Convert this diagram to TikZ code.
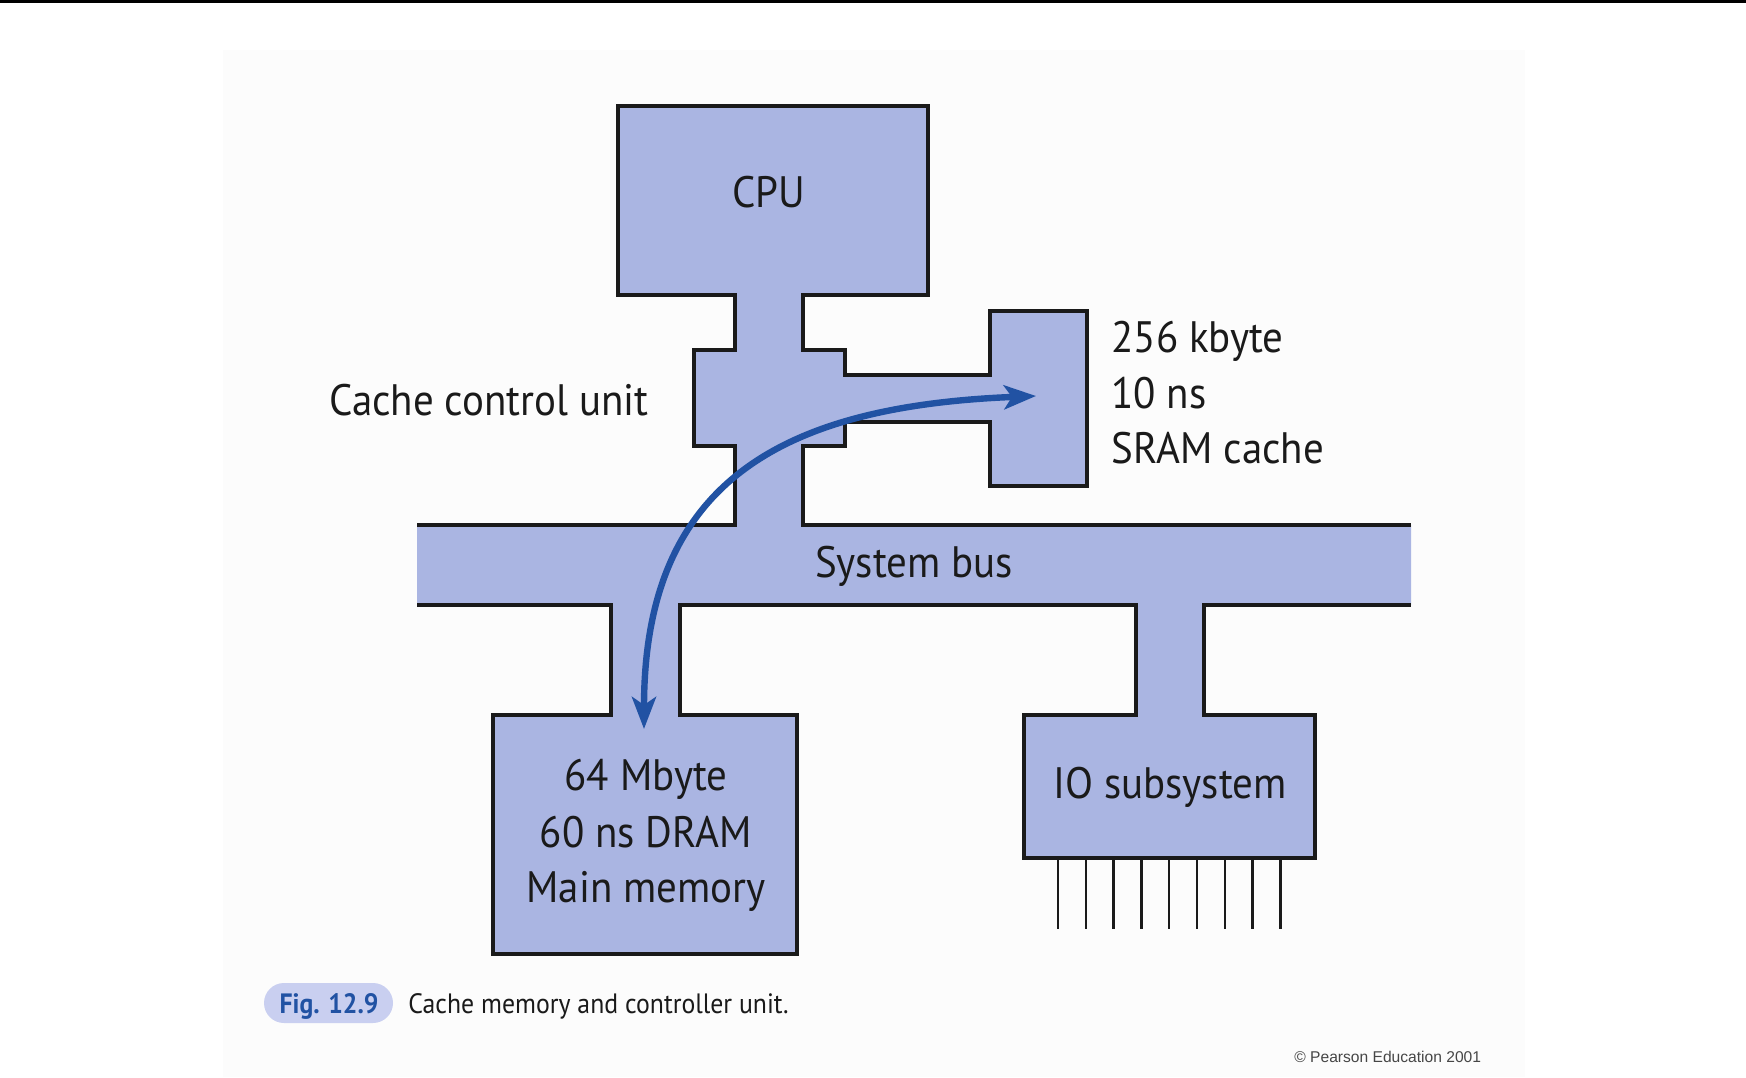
\documentclass[tikz,border=0pt]{standalone}
\usepackage{fontspec}
\setmainfont{PT Sans}[FakeStretch=0.93]
\newfontfamily\capfont{PT Sans}[FakeStretch=0.92]
\newfontfamily\copyfont{Liberation Sans}
\usetikzlibrary{arrows.meta}
\definecolor{boxfill}{RGB}{170,181,226}
\definecolor{arrowblue}{RGB}{33,82,163}
\definecolor{pillfill}{RGB}{201,207,240}
\definecolor{txt}{RGB}{26,26,26}
\definecolor{panel}{RGB}{252,252,252}
\definecolor{copygray}{RGB}{70,70,70}
\begin{document}
\begin{tikzpicture}[x=0.5pt,y=-0.5pt,
  outline/.style={line width=2.25pt, line join=miter, draw=txt},
  lbl/.style={inner sep=0pt, anchor=base, text=txt, font=\fontsize{22pt}{28pt}\selectfont},
  lblw/.style={lbl, anchor=base west},
  pin/.style={line width=1.2pt, draw=txt},
  flow/.style={draw=arrowblue, line width=3.2pt, >={Stealth[length=16pt,width=12pt,inset=4pt]}, <->}]
\useasboundingbox (0,0) rectangle (1746,1077);
\fill[white] (0,0) rectangle (1746,1077);
\fill[panel] (223,50) rectangle (1525,1077);
\fill[black] (0,0) rectangle (1746,3);
% filled body
\fill[boxfill] (417,525) -- (735,525) -- (735,446) -- (694,446) -- (694,350) -- (735,350)
  -- (735,295) -- (618,295) -- (618,106) -- (928,106) -- (928,295) -- (803,295)
  -- (803,350) -- (845,350) -- (845,375) -- (990,375) -- (990,311) -- (1087,311)
  -- (1087,486) -- (990,486) -- (990,422) -- (845,422) -- (845,446) -- (803,446)
  -- (803,525) -- (1411,525) -- (1411,605) -- (1204,605) -- (1204,715) -- (1315,715)
  -- (1315,858) -- (1024,858) -- (1024,715) -- (1136,715) -- (1136,605) -- (680,605)
  -- (680,715) -- (797,715) -- (797,954) -- (493,954) -- (493,715) -- (611,715)
  -- (611,605) -- (417,605) -- cycle;
% outlines
\draw[outline] (417,525) -- (735,525) -- (735,446) -- (694,446) -- (694,350) -- (735,350)
  -- (735,295) -- (618,295) -- (618,106) -- (928,106) -- (928,295) -- (803,295)
  -- (803,350) -- (845,350) -- (845,375) -- (990,375) -- (990,311) -- (1087,311)
  -- (1087,486) -- (990,486) -- (990,422) -- (845,422) -- (845,446) -- (803,446)
  -- (803,525) -- (1411,525);
\draw[outline] (417,605) -- (611,605) -- (611,715) -- (493,715) -- (493,954) -- (797,954)
  -- (797,715) -- (680,715) -- (680,605) -- (1136,605) -- (1136,715) -- (1024,715)
  -- (1024,858) -- (1315,858) -- (1315,715) -- (1204,715) -- (1204,605) -- (1411,605);
% IO pins
\foreach \k in {0,...,8} {
  \coordinate (pintop\k) at (1058+27.8*\k,858);
  \coordinate (pinbot\k) at (1058+27.8*\k,929);
  \draw[pin] (pintop\k) -- (pinbot\k);
}
% labels
\node[lbl] (cpu) at (769,207) {CPU};
\node[lbl] (ccu) at (489,415) {Cache control unit};
\node[lblw] (sram1) at (1111,352) {256 kbyte};
\node[lblw] (sram2) at (1111,408) {10 ns};
\node[lblw] (sram3) at (1111,463) {SRAM cache};
\node[lbl] (bus) at (914,577) {System bus};
\node[lbl] (mem1) at (646,790) {64 Mbyte};
\node[lbl] (mem2) at (646,847) {60 ns DRAM};
\node[lbl] (mem3) at (646,902) {Main memory};
\node[lbl] (io) at (1170,798) {IO subsystem};
% arrow
\coordinate (memtip) at (644,729);
\coordinate (sramtip) at (1036,396);
\draw[flow] (memtip) .. controls (644,479) and (786,406) .. (sramtip);
% caption
\fill[pillfill, rounded corners=10pt] (264,983) rectangle (393,1023);
\node[inner sep=0pt, anchor=base, text=arrowblue, font=\capfont\fontsize{14pt}{17pt}\selectfont\bfseries] (fig) at (329,1013) {Fig. 12.9};
\node[inner sep=0pt, anchor=base west, text=txt, font=\capfont\fontsize{14pt}{17pt}\selectfont] (cap) at (408,1013) {Cache memory and controller unit.};
\node[inner sep=0pt, anchor=base west, text=copygray, font=\copyfont\fontsize{7.8pt}{9pt}\selectfont] (copy) at (1294,1062) {© Pearson Education 2001};
\end{tikzpicture}
\end{document}
